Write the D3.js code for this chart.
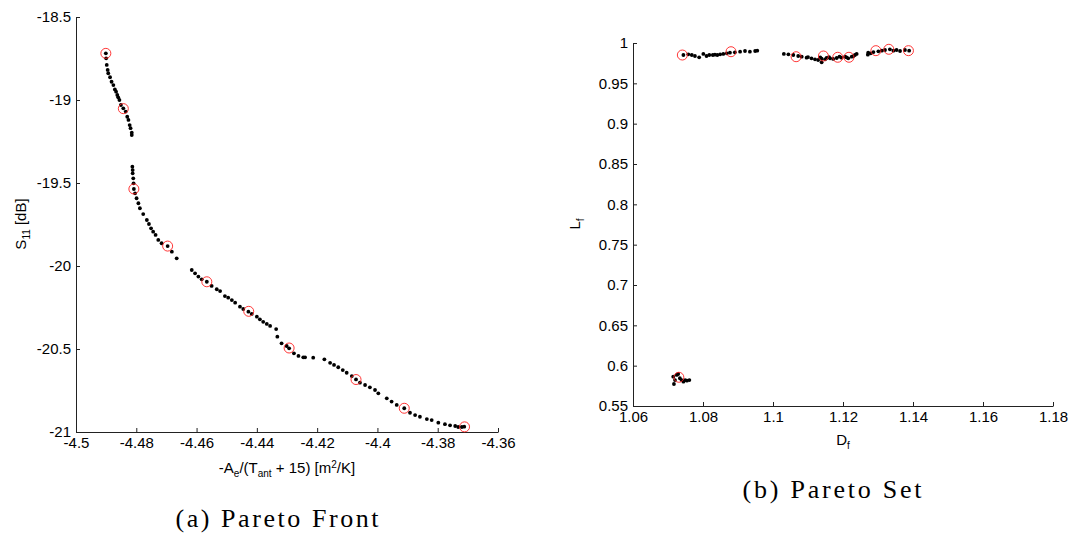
<!DOCTYPE html>
<html>
  <head>
    <meta charset="utf-8">
    <title>Pareto Front and Pareto Set</title>
    <script src="https://cdn.jsdelivr.net/npm/d3@7"></script>
    <style>
    html, body {
        margin: 0;
        padding: 0;
        background: #fff;
    }
    #vis text {
        font-family: 'Liberation Sans', Arial, sans-serif;
        font-size: 15px;
        fill: #000;
    }
    #vis .domain, #vis .tick line {
        stroke: #222;
        stroke-width: 1px;
    }
    #vis text.caption {
        font-family: 'Liberation Serif', 'DejaVu Serif', serif;
        font-size: 26px;
    }
    #vis circle.pt { fill: #000; }
    #vis circle.sel { fill: none; stroke: #ff2020; stroke-width: 0.9px; }
    </style>
  </head>
  <body>
    <div id="vis"></div>
    <script>

      // (a) Pareto front: x = -Ae/(Tant+15), y = S11 [dB]
      var frontX = [-4.4901,-4.4900,-4.4898,-4.4895,-4.4893,-4.4887,-4.4882,-4.4876,-4.4871,-4.4867,-4.4863,-4.4860,-4.4856,-4.4851,-4.4843,-4.4835,-4.4830,-4.4826,-4.4822,-4.4819,-4.4815,-4.4815,
        -4.4813,-4.4812,-4.4812,-4.4810,-4.4809,-4.4808,-4.4804,-4.4799,-4.4793,-4.4788,-4.4777,-4.4765,-4.4758,-4.4751,-4.4744,-4.4736,-4.4727,-4.4716,-4.4696,-4.4682,-4.4666,
        -4.4616,-4.4605,-4.4594,-4.4583,-4.4566,-4.4550,-4.4533,-4.4522,-4.4506,-4.4495,-4.4483,-4.4472,-4.4456,-4.4445,-4.4428,-4.4417,-4.4400,-4.4390,-4.4379,-4.4367,-4.4356,-4.4336,
        -4.4332,-4.4318,-4.4301,-4.4293,-4.4277,-4.4262,-4.4246,-4.4240,-4.4213,-4.4176,-4.4157,-4.4144,-4.4130,-4.4115,-4.4102,-4.4085,-4.4071,-4.4058,-4.4041,-4.4025,-4.4008,-4.3997,
        -4.3969,-4.3953,-4.3936,-4.3911,-4.3892,-4.3875,-4.3859,-4.3836,-4.3820,-4.3798,-4.3776,-4.3759,-4.3742,-4.3732,-4.3720,-4.3712];
      var frontY = [-18.719,-18.749,-18.789,-18.819,-18.839,-18.863,-18.890,-18.910,-18.936,-18.950,-18.970,-18.984,-19.000,-19.030,-19.050,-19.070,-19.101,-19.120,-19.151,-19.170,-19.197,-19.211,
        -19.402,-19.422,-19.442,-19.472,-19.502,-19.536,-19.562,-19.592,-19.622,-19.652,-19.687,-19.723,-19.747,-19.773,-19.793,-19.813,-19.843,-19.863,-19.880,-19.914,-19.954,
        -20.024,-20.044,-20.064,-20.080,-20.095,-20.120,-20.140,-20.151,-20.181,-20.191,-20.205,-20.221,-20.245,-20.259,-20.275,-20.289,-20.305,-20.321,-20.336,-20.349,-20.361,-20.380,
        -20.426,-20.466,-20.482,-20.496,-20.526,-20.542,-20.550,-20.550,-20.552,-20.562,-20.583,-20.596,-20.610,-20.627,-20.643,-20.663,-20.683,-20.703,-20.717,-20.731,-20.747,-20.767,
        -20.797,-20.817,-20.837,-20.857,-20.884,-20.898,-20.908,-20.922,-20.928,-20.944,-20.953,-20.960,-20.964,-20.970,-20.970,-20.968];
      var frontSelX = [-4.4901,-4.4843,-4.4808,-4.4696,-4.4566,-4.4427,-4.4293,-4.4071,-4.3911,-4.3711];
      var frontSelY = [-18.719,-19.052,-19.536,-19.880,-20.095,-20.273,-20.494,-20.684,-20.857,-20.969];

      // (b) Pareto set: x = Df, y = Lf
      var setX = [1.0744,1.0758,1.0768,1.0777,1.0789,1.0801,1.0810,1.0818,1.0828,1.0834,1.0841,1.0849,1.0858,1.0868,1.0877,1.0891,1.0906,1.0920,1.0934,1.0949,1.0955,
        1.1031,1.1044,1.1058,1.1072,1.1082,1.1096,1.1110,1.1120,1.1129,1.1139,1.1149,1.1153,1.1163,1.1172,1.1182,1.1196,1.1206,1.1215,1.1225,1.1234,1.1239,
        1.1100,1.1135,1.1160,1.1190,1.1210,1.1230,1.1139,
        1.1271,1.1272,1.1279,1.1287,1.1301,1.1311,1.1320,1.1334,1.1344,1.1353,1.1363,1.1377,1.1389,
        1.0715,1.0720,1.0717,1.0725,1.0729,1.0734,1.0739,1.0744,1.0749,1.0754,1.0761];
      var setY = [0.9851,0.9860,0.9851,0.9839,0.9822,0.9864,0.9839,0.9851,0.9851,0.9855,0.9851,0.9860,0.9864,0.9872,0.9880,0.9885,0.9892,0.9901,0.9892,0.9901,0.9905,
        0.9864,0.9860,0.9851,0.9839,0.9830,0.9818,0.9810,0.9798,0.9789,0.9805,0.9798,0.9814,0.9810,0.9802,0.9814,0.9818,0.9830,0.9810,0.9830,0.9851,0.9864,
        0.9826,0.9820,0.9826,0.9830,0.9822,0.9838,0.9760,
        0.9855,0.9880,0.9872,0.9888,0.9897,0.9905,0.9913,0.9922,0.9905,0.9913,0.9901,0.9913,0.9905,
        0.5863,0.5822,0.5773,0.5885,0.5897,0.5844,0.5822,0.5802,0.5822,0.5814,0.5822];
      var setSelX = [1.0741,1.0880,1.1066,1.1144,1.1185,1.1217,1.1294,1.1331,1.1387,1.0731];
      var setSelY = [0.9851,0.9892,0.9830,0.9839,0.9823,0.9823,0.9905,0.9922,0.9905,0.5856];

      var frontXTicks = [-4.5,-4.48,-4.46,-4.44,-4.42,-4.4,-4.38,-4.36];
      var frontYTicks = [-18.5,-19,-19.5,-20,-20.5,-21];
      var setXTicks = [1.06,1.08,1.1,1.12,1.14,1.16,1.18];
      var setYTicks = [0.55,0.6,0.65,0.7,0.75,0.8,0.85,0.9,0.95,1];

      var width = 1072;
      var height = 533;

      var svg = d3.select('#vis').append('svg')
          .attr('width', width)
          .attr('height', height);

      function zip(a, b) {
        return a.map(function(d, i) { return [d, b[i]]; });
      }

      function createPlot(opts) {
        var x = d3.scaleLinear().domain(opts.xDomain).range([opts.left, opts.right]);
        var y = d3.scaleLinear().domain(opts.yDomain).range([opts.bottom, opts.top]);

        svg.append('g')
            .attr('transform', 'translate(0,' + opts.bottom + ')')
            .call(d3.axisBottom(x).tickValues(opts.xTicks).tickFormat(String)
              .tickSizeInner(-4).tickSizeOuter(0).tickPadding(5));

        svg.append('g')
            .attr('transform', 'translate(' + opts.left + ',0)')
            .call(d3.axisLeft(y).tickValues(opts.yTicks).tickFormat(String)
              .tickSizeInner(-4).tickSizeOuter(0).tickPadding(5));

        svg.selectAll('g').attr('font-size', null).attr('font-family', null);

        var g = svg.append('g');
        g.selectAll('circle.pt')
            .data(zip(opts.xs, opts.ys))
            .enter()
            .append('circle')
            .attr('class', 'pt')
            .attr('cx', function(d) { return x(d[0]); })
            .attr('cy', function(d) { return y(d[1]); })
            .attr('r', 1.9);

        g.selectAll('circle.sel')
            .data(zip(opts.selX, opts.selY))
            .enter()
            .append('circle')
            .attr('class', 'sel')
            .attr('cx', function(d) { return x(d[0]); })
            .attr('cy', function(d) { return y(d[1]); })
            .attr('r', 5);
      }

      createPlot({
        left: 76, right: 498, top: 17, bottom: 432,
        xDomain: [-4.5, -4.36], yDomain: [-21, -18.5],
        xTicks: frontXTicks, yTicks: frontYTicks,
        xs: frontX, ys: frontY, selX: frontSelX, selY: frontSelY
      });

      createPlot({
        left: 633, right: 1053, top: 43, bottom: 406,
        xDomain: [1.06, 1.18], yDomain: [0.55, 1],
        xTicks: setXTicks, yTicks: setYTicks,
        xs: setX, ys: setY, selX: setSelX, selY: setSelY
      });

      // axis labels
      var yl = svg.append('text')
          .attr('transform', 'translate(26,224) rotate(-90)')
          .attr('text-anchor', 'middle');
      yl.append('tspan').text('S');
      yl.append('tspan').attr('dy', 4).attr('font-size', '10px').text('11');
      yl.append('tspan').attr('dy', -4).text(' [dB]');

      var xl = svg.append('text')
          .attr('x', 287).attr('y', 473)
          .attr('text-anchor', 'middle');
      xl.append('tspan').text('-A');
      xl.append('tspan').attr('dy', 4).attr('font-size', '10px').text('e');
      xl.append('tspan').attr('dy', -4).text('/(T');
      xl.append('tspan').attr('dy', 4).attr('font-size', '10px').text('ant');
      xl.append('tspan').attr('dy', -4).text(' + 15) [m');
      xl.append('tspan').attr('dy', -5).attr('font-size', '10px').text('2');
      xl.append('tspan').attr('dy', 5).text('/K]');

      var yl2 = svg.append('text')
          .attr('transform', 'translate(580,224) rotate(-90)')
          .attr('text-anchor', 'middle');
      yl2.append('tspan').text('L');
      yl2.append('tspan').attr('dy', 4).attr('font-size', '10px').text('f');

      var xl2 = svg.append('text')
          .attr('x', 843).attr('y', 445)
          .attr('text-anchor', 'middle');
      xl2.append('tspan').text('D');
      xl2.append('tspan').attr('dy', 4).attr('font-size', '10px').text('f');

      // captions
      svg.append('text')
          .attr('class', 'caption')
          .attr('x', 277).attr('y', 527)
          .attr('text-anchor', 'middle')
          .attr('textLength', 203)
          .text('(a) Pareto Front');

      svg.append('text')
          .attr('class', 'caption')
          .attr('x', 832).attr('y', 498)
          .attr('text-anchor', 'middle')
          .attr('textLength', 179)
          .text('(b) Pareto Set');

    </script>
  </body>
</html>
